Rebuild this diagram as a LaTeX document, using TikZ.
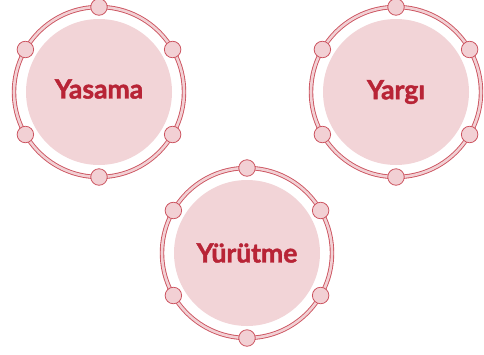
\documentclass[tikz,border=0pt]{standalone}
\usepackage{fontspec}
\setmainfont{Lato}[BoldFeatures={FakeBold=1.6}]
\usetikzlibrary{calc}
\definecolor{ringred}{RGB}{204,84,96}
\definecolor{ringfill}{RGB}{242,208,212}
\definecolor{discpink}{RGB}{242,212,215}
\definecolor{textred}{RGB}{184,36,54}
\tikzset{
  ring/.style={draw=ringred,line width=0.9pt,double=ringfill,double distance=2.6pt},
  disc/.style={circle,fill=discpink,minimum size=146pt,inner sep=0pt},
  label/.style={font=\fontsize{26.5}{30}\selectfont\bfseries,text=textred},
  knob/.style={circle,draw=ringred,line width=0.8pt,fill=ringfill,minimum size=16.5pt,inner sep=0pt}
}
\begin{document}
\begin{tikzpicture}[x=1pt,y=-1pt]
      \useasboundingbox (0,0) rectangle (484,354);
      \coordinate (Y) at (99,92);
      \coordinate (G) at (396,92);
      \coordinate (T) at (247,253);

      \node[disc] (dY) at (Y) {};
      \node[disc] (dG) at (G) {};
      \node[disc] (dT) at (T) {};

      \node[label] (yasama) at ($(Y)+(0,-3)$) {Yasama};
      \node[label] (yargi) at (G) {Yargı};
      \node[label] (yurutme) at (T) {Yürütme};

      \foreach \c in {Y,G,T} {
        \draw[ring] (\c) circle[radius=85];
        \foreach \a in {30,90,...,330}
          \node[knob] (k\c\a) at ($(\c)+(\a:85)$) {};
      }
    \end{tikzpicture}
\end{document}
